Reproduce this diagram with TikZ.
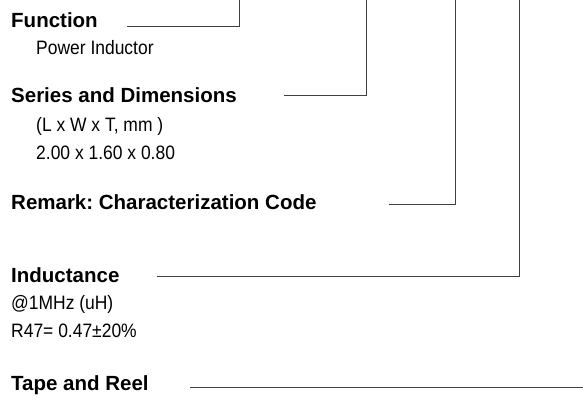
\documentclass[tikz,border=0pt]{standalone}
\usepackage{fontspec}
\setmainfont{Liberation Sans}
\newfontfamily\narrowsans[FakeStretch=0.9]{Liberation Sans}
\usepackage{tikz}
\usetikzlibrary{positioning}
\frenchspacing

\begin{document}
\begin{tikzpicture}[
    x=1pt, y=-1pt,
    head/.style={
        anchor=base west,
        inner sep=0pt,
        font=\fontsize{20.5}{24}\selectfont\bfseries
    },
    sub/.style={
        anchor=base west,
        inner sep=0pt,
        font=\narrowsans\fontsize{19.4}{23}\selectfont
    },
    leader/.style={
        draw=black!75,
        line width=0.9pt
    }
]
    \useasboundingbox (0,0) rectangle (583,397);

    % titles and their notes
    \node[head] (func) at (11,27) {Function};
    \node[sub] (funcname) at (36,54) {Power Inductor};

    \node[head] (series) at (11,102) {Series and Dimensions};
    \node[sub] (seriesunit) at (36,131) {(L x W x T, mm )};
    \node[sub] (seriesval) at (36,159) {2.00 x 1.60 x 0.80};

    \node[head] (remark) at (11,209) {Remark: Characterization Code};

    \node[head] (induct) at (11,282) {Inductance};
    \node[sub] (inductfreq) at (11,309) {@1MHz (uH)};
    \node[sub] (inductval) at (11,337) {R47= 0.47±20\%};

    \node[head] (tape) at (11,390) {Tape and Reel};

    % ends of the leader lines
    \coordinate (funcL) at (127,26);
    \coordinate (funcT) at (239,0);
    \coordinate (seriesL) at (284,95);
    \coordinate (seriesT) at (366,0);
    \coordinate (remarkL) at (389,204);
    \coordinate (remarkT) at (455,0);
    \coordinate (inductL) at (157,276);
    \coordinate (inductT) at (519,0);
    \coordinate (tapeL) at (190,387);
    \coordinate (tapeR) at (583,387);

    % leader lines
    \draw[leader] (funcL) -| (funcT);
    \draw[leader] (seriesL) -| (seriesT);
    \draw[leader] (remarkL) -| (remarkT);
    \draw[leader] (inductL) -| (inductT);
    \draw[leader] (tapeL) -- (tapeR);
\end{tikzpicture}
\end{document}
